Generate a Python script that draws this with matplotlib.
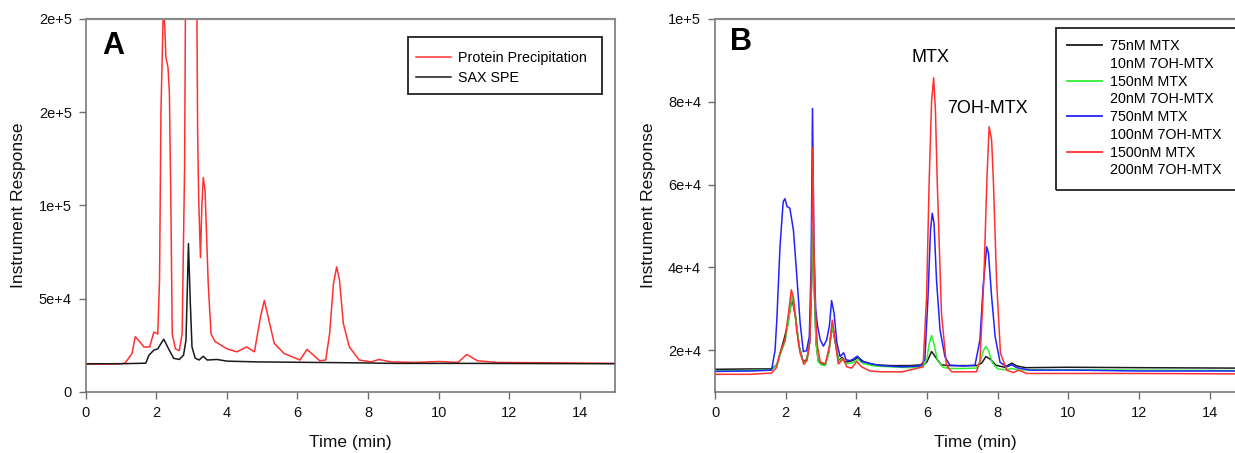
import matplotlib
matplotlib.use("Agg")
import matplotlib.pyplot as plt
from matplotlib.lines import Line2D
from matplotlib.patches import Rectangle
from matplotlib.ticker import FixedLocator, FixedFormatter

plt.rcParams['font.family'] = ['Liberation Sans', 'DejaVu Sans']

# ---------------- Panel A data ----------------
a_pp_t = [0, 0.5, 1.0, 1.12, 1.31, 1.40, 1.50, 1.65, 1.81, 1.93, 2.04, 2.09, 2.13, 2.19, 2.21, 2.24,
          2.27, 2.33, 2.37, 2.41, 2.45, 2.54, 2.65, 2.73, 2.80, 2.84, 3.0, 3.13, 3.17, 3.20, 3.25,
          3.29, 3.33, 3.38, 3.47, 3.55, 3.66, 3.83, 4.0, 4.28, 4.56, 4.78, 4.95, 5.06, 5.17, 5.34,
          5.62, 6.07, 6.27, 6.4, 6.63, 6.8, 6.91, 7.02, 7.11, 7.19, 7.3, 7.47, 7.75, 8.09, 8.31,
          8.65, 9.32, 10.0, 10.55, 10.8, 11.1, 11.67, 13.2, 15]
a_pp_y = [14800, 14800, 15000, 15500, 20500, 29500, 27500, 24000, 24000, 32000, 31000, 60000, 150000,
          200000, 205000, 195000, 179500, 174000, 160000, 103000, 31000, 23000, 22000, 31000, 120000,
          260000, 300000, 260000, 139000, 103000, 72000, 100000, 115000, 108000, 58000, 31000, 27000,
          25000, 23000, 21400, 24000, 21400, 40000, 49000, 40000, 26000, 20500, 17000, 22700, 20500,
          16600, 17000, 31000, 58000, 67000, 60000, 36600, 24000, 17000, 16000, 17300, 16000, 15700,
          16200, 15700, 20000, 16600, 15700, 15500, 15200]

a_sax_t = [0, 1.0, 1.7, 1.79, 1.93, 2.04, 2.12, 2.21, 2.32, 2.49, 2.65, 2.77, 2.84, 2.91, 2.96,
           3.01, 3.10, 3.21, 3.33, 3.44, 3.72, 4.0, 4.84, 6.52, 7.64, 8.76, 11, 13, 15]
a_sax_y = [15000, 15000, 15300, 19600, 22300, 23000, 25500, 28200, 24000, 17900, 17300, 19600, 27700,
           79500, 49000, 24000, 18000, 17000, 19000, 17000, 17300, 16400, 16000, 15700, 15500, 15200,
           15200, 15100, 15000]

a_labels = ["Protein Precipitation", "SAX SPE"]
a_yticks = [0, 50000, 100000, 150000, 200000]
a_yticklabels = ["0", "5e+4", "1e+5", "2e+5", "2e+5"]
a_xticks = [0, 2, 4, 6, 8, 10, 12, 14]

# ---------------- Panel B data ----------------
b_75_t = [0, 1.0, 1.6, 1.75, 1.85, 1.95, 2.05, 2.18, 2.28, 2.38, 2.5, 2.6, 2.68, 2.73, 2.77, 2.81,
          2.86, 2.92, 3.0, 3.12, 3.22, 3.32, 3.4, 3.5, 3.6, 3.67, 3.75, 3.9, 4.05, 4.2, 4.5, 5.0,
          5.5, 5.9, 6.0, 6.13, 6.25, 6.4, 6.6, 7.0, 7.4, 7.55, 7.67, 7.8, 7.95, 8.2, 8.4, 8.55,
          8.8, 10, 12, 14.72]
b_75_y = [15400, 15500, 15500, 16500, 19500, 22500, 26000, 32500, 28000, 21000, 17200, 17800, 22000,
          35000, 48000, 35000, 22000, 17500, 16700, 16500, 19500, 26000, 22000, 17500, 18300, 17300,
          17200, 17500, 18300, 17300, 16500, 16300, 16300, 16500, 17200, 19700, 18300, 16500, 16300,
          16300, 16300, 16900, 18500, 17800, 16400, 15900, 16900, 16200, 15800, 15900, 15800, 15700]

b_150_t = [0, 1.0, 1.6, 1.75, 1.85, 1.98, 2.08, 2.18, 2.28, 2.38, 2.5, 2.6, 2.68, 2.73, 2.77, 2.81,
           2.86, 2.92, 3.0, 3.12, 3.22, 3.32, 3.4, 3.5, 3.6, 3.67, 3.75, 3.9, 4.05, 4.2, 4.5, 5.0,
           5.5, 5.9, 6.0, 6.06, 6.13, 6.2, 6.3, 6.45, 6.65, 7.0, 7.4, 7.52, 7.6, 7.67, 7.75, 7.85,
           8.0, 8.2, 8.4, 8.6, 8.9, 10, 12, 14.72]
b_150_y = [15000, 15100, 15200, 16500, 19000, 22000, 27000, 33300, 28500, 21000, 17000, 17500, 22000,
           35000, 49000, 35000, 22000, 17300, 16500, 16300, 19300, 26000, 22500, 17300, 18000, 17000,
           16800, 17000, 17800, 16800, 16200, 16000, 15800, 16100, 18000, 21500, 23600, 21500, 17500,
           15900, 15600, 15600, 15700, 17500, 20000, 20900, 19800, 17000, 15500, 15300, 15600, 15200,
           15300, 15300, 15200, 15100]

b_750_t = [0, 1.0, 1.6, 1.7, 1.75, 1.84, 1.93, 1.98, 2.04, 2.12, 2.22, 2.31, 2.41, 2.5, 2.59, 2.67,
           2.72, 2.76, 2.80, 2.85, 2.9, 2.98, 3.07, 3.16, 3.24, 3.30, 3.37, 3.45, 3.54, 3.64, 3.71,
           3.82, 3.92, 4.03, 4.15, 4.39, 4.7, 5.3, 5.8, 5.94, 6.03, 6.10, 6.15, 6.20, 6.27, 6.37,
           6.51, 6.65, 7.04, 7.36, 7.50, 7.59, 7.69, 7.74, 7.83, 7.93, 8.07, 8.26, 8.40, 8.54, 8.92,
           10.3, 12, 14.72]
b_750_y = [14900, 15000, 15200, 20000, 27300, 45000, 55900, 56600, 54700, 54300, 49000, 38600, 26600,
           19700, 19900, 23300, 40000, 78400, 45000, 30000, 26000, 22500, 21000, 22500, 26000, 32000,
           29000, 21800, 18500, 19400, 17700, 17500, 17900, 18600, 17300, 16800, 16300, 16000, 16200,
           17700, 33000, 49000, 53100, 50700, 37000, 24900, 18400, 16400, 16200, 16400, 22500, 35400,
           45000, 43500, 33000, 23300, 17100, 16000, 16500, 15800, 15200, 15200, 15000, 15000]

b_1500_t = [0, 1.0, 1.6, 1.745, 1.84, 1.98, 2.08, 2.16, 2.22, 2.31, 2.41, 2.52, 2.61, 2.69, 2.73,
            2.77, 2.80, 2.84, 2.90, 2.98, 3.12, 3.24, 3.32, 3.39, 3.49, 3.64, 3.73, 3.87, 4.01, 4.15,
            4.39, 4.7, 5.3, 5.89, 5.99, 6.06, 6.13, 6.19, 6.24, 6.29, 6.41, 6.55, 6.70, 7.0, 7.40,
            7.50, 7.61, 7.70, 7.76, 7.83, 7.88, 7.97, 8.08, 8.26, 8.45, 8.59, 8.83, 10.3, 12, 14.72]
b_1500_y = [14200, 14200, 14500, 15900, 19300, 22500, 28900, 34600, 32800, 24900, 19300, 16600, 17700,
            22500, 40000, 69000, 45000, 30000, 21000, 17200, 16700, 21000, 27300, 23300, 16700, 18000,
            16000, 15700, 17300, 16000, 15000, 14800, 14800, 16000, 33000, 60000, 80000, 85800, 78000,
            61000, 29000, 16400, 14800, 14800, 14800, 17300, 37000, 62000, 74000, 70800, 61000, 37000,
            19300, 15200, 14600, 15200, 14400, 14400, 14400, 14300]

b_labels = ["75nM MTX", "10nM 7OH-MTX", "150nM MTX", "20nM 7OH-MTX",
            "750nM MTX", "100nM 7OH-MTX", "1500nM MTX", "200nM 7OH-MTX"]
b_yticks = [20000, 40000, 60000, 80000, 100000]
b_yticklabels = ["2e+4", "4e+4", "6e+4", "8e+4", "1e+5"]
b_xticks = [0, 2, 4, 6, 8, 10, 12, 14]

# ---------------- Figure ----------------
W, H = 1235, 453
fig = plt.figure(figsize=(W / 100, H / 100), dpi=100)

def px_axes(x0, x1, ytop, ybot):
    return fig.add_axes([x0 / W, 1 - ybot / H, (x1 - x0) / W, (ybot - ytop) / H])

def px_box(x0, y0, x1, y1):
    r = Rectangle((x0 / W, 1 - y1 / H), (x1 - x0) / W, (y1 - y0) / H,
                  transform=fig.transFigure, fill=False, edgecolor='#222222',
                  linewidth=1.3, zorder=10)
    fig.patches.append(r)

axA = px_axes(85.8, 615, 19, 391.7)
axB = px_axes(715, 1235, 19, 391.7)

RED = '#ff3030'
BLACK = '#1a1a1a'
GREEN = '#33ee33'
BLUE = '#2222ff'
SPINE = '#6e6e6e'

def style(ax, right=True):
    for s in ['left', 'bottom', 'top', 'right']:
        ax.spines[s].set_color(SPINE)
        ax.spines[s].set_linewidth(1.1)
    ax.spines['top'].set_linewidth(1.6)
    ax.spines['top'].set_color('#8a8a8a')
    if not right:
        ax.spines['right'].set_visible(False)
    ax.tick_params(direction='out', length=5, width=1, color=SPINE,
                   labelsize=10.5, pad=5, labelcolor='#111111')
    ax.set_xlabel("Time (min)", fontsize=12.5, labelpad=11, color='#111111')
    ax.set_ylabel("Instrument Response", fontsize=12.5, labelpad=9, color='#111111')

# Panel A
axA.plot(a_pp_t, a_pp_y, color=RED, lw=1.1, label=a_labels[0])
axA.plot(a_sax_t, a_sax_y, color=BLACK, lw=1.1, label=a_labels[1])
axA.set_xlim(0, 15)
axA.set_ylim(0, 200000)
axA.xaxis.set_major_locator(FixedLocator(a_xticks))
axA.yaxis.set_major_locator(FixedLocator(a_yticks))
axA.yaxis.set_major_formatter(FixedFormatter(a_yticklabels))
style(axA, right=True)
axA.text(113.6 / W, 1 - 46 / H, "A", transform=fig.transFigure, fontsize=22,
         fontweight='bold', ha='center', va='center')
px_box(408, 36.7, 601.5, 94.3)
legA = axA.legend(loc='upper left', bbox_to_anchor=(412 / W, 1 - 46.5 / H),
                  bbox_transform=fig.transFigure, borderaxespad=0, borderpad=0.3,
                  fontsize=10.3, frameon=False, handlelength=2.4,
                  handletextpad=0.55, labelspacing=0.45)

# Panel B
axB.plot(b_75_t, b_75_y, color=BLACK, lw=1.1)
axB.plot(b_150_t, b_150_y, color=GREEN, lw=1.1)
axB.plot(b_750_t, b_750_y, color=BLUE, lw=1.1)
axB.plot(b_1500_t, b_1500_y, color=RED, lw=1.1)
axB.set_xlim(0, 14.72)
axB.set_ylim(10000, 100000)
axB.xaxis.set_major_locator(FixedLocator(b_xticks))
axB.yaxis.set_major_locator(FixedLocator(b_yticks))
axB.yaxis.set_major_formatter(FixedFormatter(b_yticklabels))
style(axB, right=False)
axB.text(741 / W, 1 - 42.5 / H, "B", transform=fig.transFigure, fontsize=22,
         fontweight='bold', ha='center', va='center')
axB.text(6.09, 90800, "MTX", fontsize=13, ha='center', va='center')
axB.text(7.72, 78400, "7OH-MTX", fontsize=13, ha='center', va='center')

colsB = [BLACK, GREEN, BLUE, RED]
handles = []
for c in colsB:
    handles.append(Line2D([], [], color=c, lw=1.3))
    handles.append(Line2D([], [], color='none', lw=1.3))
px_box(1056, 28.3, 1240, 190)
legB = axB.legend(handles, b_labels, loc='upper left', bbox_to_anchor=(1063 / W, 1 - 35 / H),
                  bbox_transform=fig.transFigure, borderaxespad=0, borderpad=0.3,
                  fontsize=10.3, frameon=False, handlelength=2.4,
                  handletextpad=0.6, labelspacing=0.26)

fig.savefig("out.png", dpi=100)
